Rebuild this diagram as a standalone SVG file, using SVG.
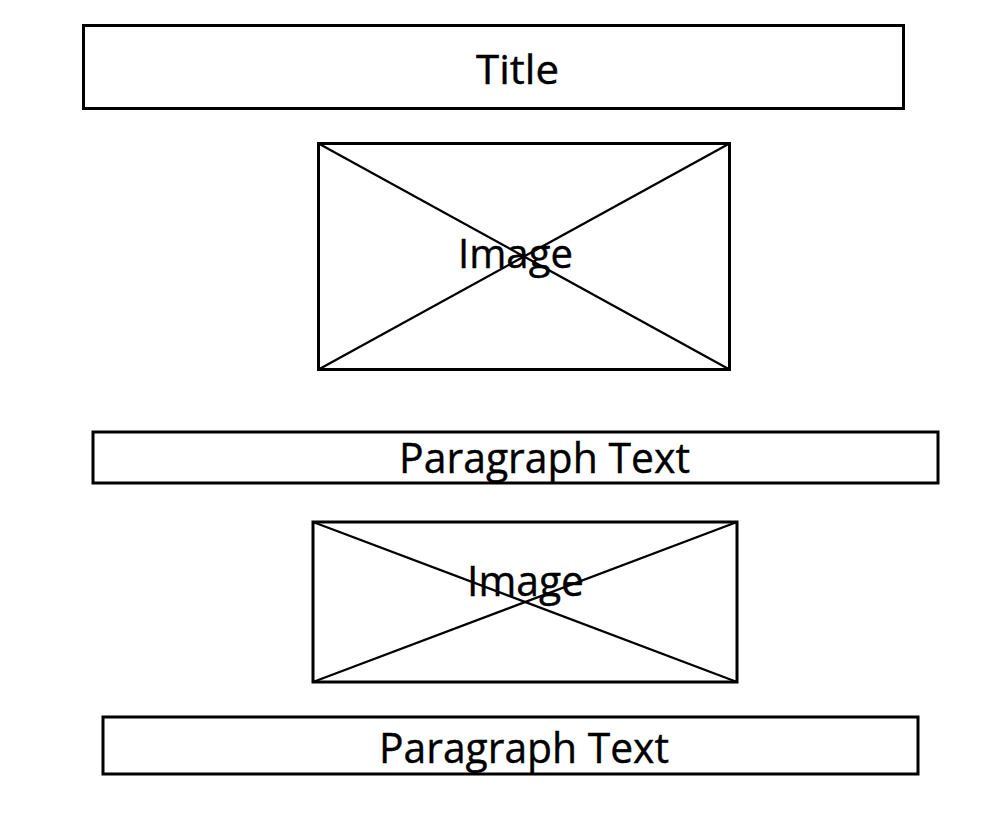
<svg xmlns="http://www.w3.org/2000/svg" width="981" height="815" viewBox="0 0 981 815">
<style>
.box{fill:#fff;stroke:#000;stroke-width:3}
.x{stroke:#000;stroke-width:2.3;fill:none}
.t{font-family:"Open Sans","Noto Sans",sans-serif;fill:#000;stroke:#000;stroke-width:0.4}
</style>
<rect width="981" height="815" fill="#fff"/>
<g id="title">
<rect class="box" x="83.5" y="25.5" width="820" height="83"/>
<text class="t" x="476" y="84" font-size="41" textLength="83" lengthAdjust="spacingAndGlyphs">Title</text>
</g>
<g id="image1">
<rect class="box" x="318.5" y="143.5" width="411" height="226"/>
<line class="x" x1="318.5" y1="143.5" x2="729.5" y2="369.5"/>
<line class="x" x1="318.5" y1="369.5" x2="729.5" y2="143.5"/>
<text class="t" x="458" y="268" font-size="41" textLength="115" lengthAdjust="spacingAndGlyphs">Image</text>
</g>
<g id="para1">
<rect class="box" x="93" y="432" width="845" height="51"/>
<text class="t" x="399" y="473" font-size="42" textLength="291" lengthAdjust="spacingAndGlyphs">Paragraph Text</text>
</g>
<g id="image2">
<rect class="box" x="313" y="522" width="424" height="160"/>
<line class="x" x1="313" y1="522" x2="737" y2="682"/>
<line class="x" x1="313" y1="682" x2="737" y2="522"/>
<text class="t" x="467" y="596" font-size="42" textLength="117" lengthAdjust="spacingAndGlyphs">Image</text>
</g>
<g id="para2">
<rect class="box" x="103" y="717" width="815" height="57"/>
<text class="t" x="379" y="763" font-size="42" textLength="290" lengthAdjust="spacingAndGlyphs">Paragraph Text</text>
</g>
<g id="connectors"></g>
</svg>
